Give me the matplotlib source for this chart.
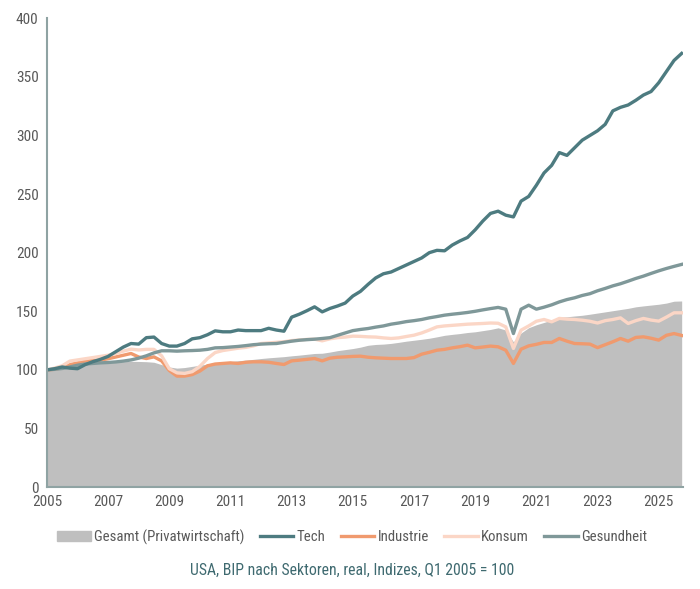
import numpy as np
import matplotlib
matplotlib.use("Agg")
import matplotlib.pyplot as plt
import matplotlib.patches as patches
from matplotlib import font_manager

# pick a narrow font if one is there
installed = {f.name for f in font_manager.fontManager.ttflist}
narrow = [n for n in ["Liberation Sans Narrow", "DejaVu Sans Condensed", "Roboto Condensed",
                      "Open Sans Condensed", "Roboto", "DejaVu Sans"] if n in installed]
plt.rcParams["font.family"] = narrow[:1] + ["DejaVu Sans"]

# quarterly, Q1 2005 .. Q4 2025
quarters = [f"{y}Q{q}" for y in range(2005, 2026) for q in range(1, 5)]

gesamt = [
    100, 101, 102.5, 103.5, 104.5, 105.3, 106, 106.5,
    106.9, 106.8, 107, 107.3, 107.2, 107, 106.5, 104.5,
    102.5, 101.5, 102, 103, 104, 105, 106.2, 106.9,
    107, 107.8, 108.3, 109, 109.7, 110.3, 110.8, 111.3,
    112, 112.6, 113.3, 114, 114.2, 115.2, 116.4, 117.3,
    118.2, 119.4, 121, 121.7, 122, 122.6, 123.5, 124.5,
    125.3, 126.1, 127, 128.2, 129.5, 130.3, 131, 131.9,
    132.5, 133.5, 134.5, 135.9, 134, 123.9, 131.5, 136,
    138.5, 140.5, 142.5, 145, 145.3, 146, 146.6, 147.5,
    148.5, 149.5, 150.5, 151.5, 152.5, 153.8, 154.6, 155.3,
    156, 157, 158.6, 158.8,
]

tech = [
    100, 101, 102.5, 101.5, 101, 104.5, 107, 109,
    111.5, 115.5, 119.5, 122.5, 122, 127.5, 128, 122.5,
    120.3, 120.3, 122.5, 126.5, 127.5, 130, 133.3, 132.5,
    132.5, 134, 133.5, 133.5, 133.5, 135.5, 134, 133,
    145, 147.5, 150.5, 153.8, 149.5, 152.4, 154.5, 157,
    163, 167, 173, 178.5, 182, 183.5, 186.5, 189.5,
    192.5, 195.5, 200, 202, 201.6, 206.5, 210, 213,
    219.5, 227, 233.5, 235.4, 232, 230.5, 244, 248,
    257.5, 268, 274.5, 285.4, 283, 289.5, 296, 300,
    304, 309.5, 321, 324, 326, 330, 334.5, 337.5,
    345, 354.5, 364, 370,
]

industrie = [
    100, 100.5, 102, 104.5, 106, 107.5, 108, 108.3,
    109.5, 111, 112.5, 114, 111, 109.7, 111.1, 107.7,
    99.5, 94.7, 94.7, 96, 99, 103.5, 105, 105.5,
    106, 105.5, 106.5, 106.9, 106.9, 106.5, 105.5, 104.6,
    107.7, 108.3, 109, 109.7, 107.7, 110, 110.8, 111.1,
    111.5, 111.7, 110.8, 110.3, 110, 109.7, 109.7, 109.7,
    110.5, 113.4, 115, 116.8, 117.5, 118.8, 119.8, 121.1,
    118.8, 119.5, 120.3, 119.7, 116.8, 105.5, 117.7, 120.5,
    121.8, 123.4, 123.4, 126.8, 124.5, 122.5, 122.3, 122,
    119, 121.5, 124, 126.8, 124.5, 127.7, 128.2, 127,
    125.4, 129.5, 131, 129.4,
]

konsum = [
    100, 101.5, 103.5, 107.5, 108.5, 109.5, 110.5, 111.5,
    112.5, 114, 116, 117.7, 117, 117.5, 117.5, 112,
    101, 97.5, 97, 98.5, 103, 109.7, 114.8, 116.5,
    117.5, 118.5, 119.2, 120.5, 122.5, 123, 123.5, 124,
    125, 125.5, 126, 126.2, 124.8, 126.5, 127.5, 128,
    128.8, 128.6, 128.2, 128, 127.3, 126.8, 127.3, 128.5,
    129.6, 131.5, 134, 136.7, 137.5, 138, 138.5, 139,
    139.3, 139.6, 140, 139.8, 136.7, 118.3, 133.9, 137.5,
    141.5, 143, 141, 143.9, 143.3, 143, 142.4, 141.5,
    140, 142, 143, 144.4, 139.6, 142, 143.9, 142.5,
    141.6, 145, 148.7, 148.7,
]

gesundheit = [
    100, 100.5, 101.2, 102.5, 104, 105, 105.5, 106,
    106.3, 106.8, 107.5, 108.5, 110, 112, 114.5, 116.3,
    116.3, 116, 116.3, 116.5, 116.8, 117.5, 118.8, 119,
    119.5, 120, 120.7, 121.5, 122, 122.3, 122.5, 123.5,
    124.5, 125.3, 125.8, 126.2, 126.8, 127.5, 129.5, 131.5,
    133.5, 134.5, 135.3, 136.5, 137.5, 139, 140, 141.2,
    142, 143, 144.4, 145.5, 146.7, 147.5, 148.2, 149,
    150, 151.2, 152.3, 153.3, 151.8, 131, 151.8, 155.2,
    151.8, 153.5, 155.5, 158, 160, 161.5, 163.5, 165,
    167.5, 169.5, 171.7, 173.5, 175.7, 178, 180, 182.3,
    184.5, 186.5, 188.3, 190,
]

year_ticks = list(range(2005, 2026, 2))
x = np.array([int(q[:4]) + (int(q[-1]) - 1) / 4 for q in quarters])

c_area = "#bfbfbf"
c_tech = "#4d7b80"
c_ind = "#f09a6e"
c_kons = "#fbd6c6"
c_ges = "#7f9899"
c_axis = "#8fa3a3"
c_text = "#595959"
c_cap = "#3f6a70"

fig = plt.figure(figsize=(7, 5.89), dpi=100)
ax = fig.add_axes([0.067, 0.173, 0.909, 0.796])

ax.fill_between(x, 0, gesamt, color=c_area, lw=0, label="Gesamt (Privatwirtschaft)")
ax.plot(x, industrie, color=c_ind, lw=2.4, label="Industrie", solid_joinstyle="round")
ax.plot(x, konsum, color=c_kons, lw=2.4, label="Konsum", solid_joinstyle="round")
ax.plot(x, gesundheit, color=c_ges, lw=2.4, label="Gesundheit", solid_joinstyle="round")
ax.plot(x, tech, color=c_tech, lw=2.4, label="Tech", solid_joinstyle="round")

ax.set_xlim(2005, x[-1] + 0.05)
ax.set_ylim(0, 400)
ax.set_yticks(range(0, 401, 50))
ax.set_xticks(year_ticks)
ax.tick_params(length=0, colors=c_text, labelsize=11, pad=6)

for s in ["top", "right"]:
    ax.spines[s].set_visible(False)
for s in ["left", "bottom"]:
    ax.spines[s].set_color(c_axis)
    ax.spines[s].set_linewidth(1.5)

h, l = ax.get_legend_handles_labels()
order = ["Gesamt (Privatwirtschaft)", "Tech", "Industrie", "Konsum", "Gesundheit"]
handles = [patches.Patch(color=c_area)] + [h[l.index(n)] for n in order[1:]]
fig.legend(handles, order, loc="center", bbox_to_anchor=(0.503, 0.088), ncol=5,
           frameon=False, fontsize=10.6, labelcolor=c_text, handlelength=2.3,
           handletextpad=0.2, columnspacing=1.05)

fig.text(0.503, 0.031, "USA, BIP nach Sektoren, real, Indizes, Q1 2005 = 100",
         ha="center", va="center", fontsize=11.3, color=c_cap)

fig.savefig("out.png", dpi=100)
